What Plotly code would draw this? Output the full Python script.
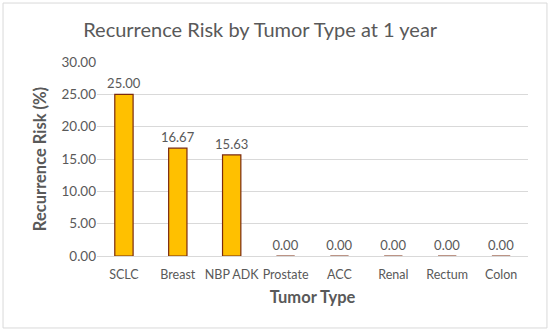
import plotly.graph_objects as go

categories = ["SCLC", "Breast", "NBP ADK", "Prostate", "ACC", "Renal", "Rectum", "Colon"]
risk = [25.00, 16.67, 15.63, 0.00, 0.00, 0.00, 0.00, 0.00]
y_ticks = [0, 5, 10, 15, 20, 25, 30]

FONT = "Lato"
GRAY = "#595959"

fig = go.Figure()
fig.add_trace(go.Bar(
    x=categories, y=risk,
    marker=dict(color="#FFC000", line=dict(color="#7B2A0E", width=1.2)),
    text=[f"{v:.2f}" for v in risk], textposition="outside",
    textfont=dict(family=FONT, size=13, color=GRAY),
    constraintext="none",
    cliponaxis=False,
))

fig.update_layout(
    width=550, height=332,
    margin=dict(l=97, r=22, t=62, b=76),
    paper_bgcolor="white", plot_bgcolor="white",
    bargap=0.66,
    showlegend=False,
    title=dict(text="Recurrence Risk by Tumor Type at 1 year", x=0.473, xanchor="center",
               y=0.91, yanchor="middle", font=dict(family=FONT, size=20, color=GRAY)),
    xaxis=dict(
        showgrid=False, showline=True, linecolor="#D9D9D9", linewidth=1,
        tickfont=dict(family=FONT, size=12.5, color=GRAY), ticks="", tickangle=0,
        ticklabelstandoff=7,
        title=dict(text="<b>Tumor Type</b>", font=dict(family=FONT, size=16.5, color=GRAY), standoff=10),
    ),
    yaxis=dict(
        range=[0, 30], tickvals=y_ticks, tickformat=".2f",
        showgrid=True, gridcolor="#D9D9D9", gridwidth=1, zeroline=False,
        tickfont=dict(family=FONT, size=13.5, color=GRAY), ticks="",
        title=dict(text="<b>Recurrence Risk (%)</b>", font=dict(family=FONT, size=16.5, color=GRAY), standoff=10),
    ),
    shapes=[dict(type="rect", xref="paper", yref="paper",
                 x0=-0.218, x1=1.044, y0=-0.371, y1=1.304,
                 line=dict(color="#D9D9D9", width=1), fillcolor="rgba(0,0,0,0)")],
)

fig.write_html("out.html", config={"displayModeBar": False},
               post_script="document.body.style.margin='0px';")
